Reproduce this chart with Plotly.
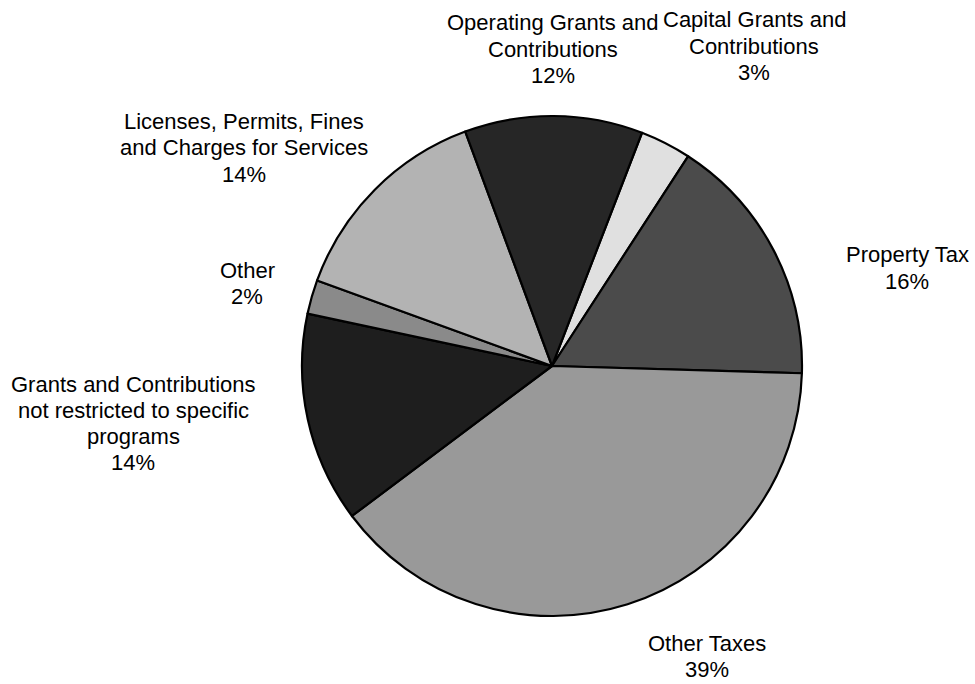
import plotly.graph_objects as go

# Data (clockwise, starting at the Capital Grants slice)
categories = [
    "Capital Grants and<br>Contributions",
    "Property Tax",
    "Other Taxes",
    "Grants and Contributions<br>not restricted to specific<br>programs",
    "Other",
    "Licenses, Permits, Fines<br>and Charges for Services",
    "Operating Grants and<br>Contributions",
]
values = [3.3, 16.3, 39.3, 13.6, 2.2, 13.8, 11.5]
pct_labels = ["3%", "16%", "39%", "14%", "2%", "14%", "12%"]
colors = ["#e0e0e0", "#4b4b4b", "#999999", "#1e1e1e", "#8a8a8a", "#b3b3b3", "#262626"]

# label centre positions in pixels (x, y from top)
label_pos = [(754, 46), (907, 268), (707, 656), (133, 423), (247, 283), (244, 148), (553, 49)]

W, H = 975, 684
cx, cy, r = 552, 366, 250
line_gap = 26

fig = go.Figure()
fig.add_trace(go.Pie(
    labels=[c.replace("<br>", " ") for c in categories],
    values=values,
    sort=False,
    direction="clockwise",
    rotation=21.1,
    textinfo="none",
    hoverinfo="skip",
    marker=dict(colors=colors, line=dict(color="#000000", width=2.2)),
    domain=dict(x=[(cx - r) / W, (cx + r) / W], y=[(H - cy - r) / H, (H - cy + r) / H]),
    showlegend=False,
))

for cat, pct, (px, py) in zip(categories, pct_labels, label_pos):
    lines = cat.split("<br>") + [pct]
    n = len(lines)
    for i, ln in enumerate(lines):
        ly = py + (i - (n - 1) / 2) * line_gap
        fig.add_annotation(
            x=px / W, y=1 - ly / H, xref="paper", yref="paper",
            text=ln, showarrow=False,
            xanchor="center", yanchor="middle", align="center",
            font=dict(family="Liberation Sans, Arial, sans-serif", size=22, color="#000000"),
        )

fig.update_layout(
    width=W, height=H,
    margin=dict(l=0, r=0, t=0, b=0),
    paper_bgcolor="white", plot_bgcolor="white",
)

fig.write_html("out.html")
